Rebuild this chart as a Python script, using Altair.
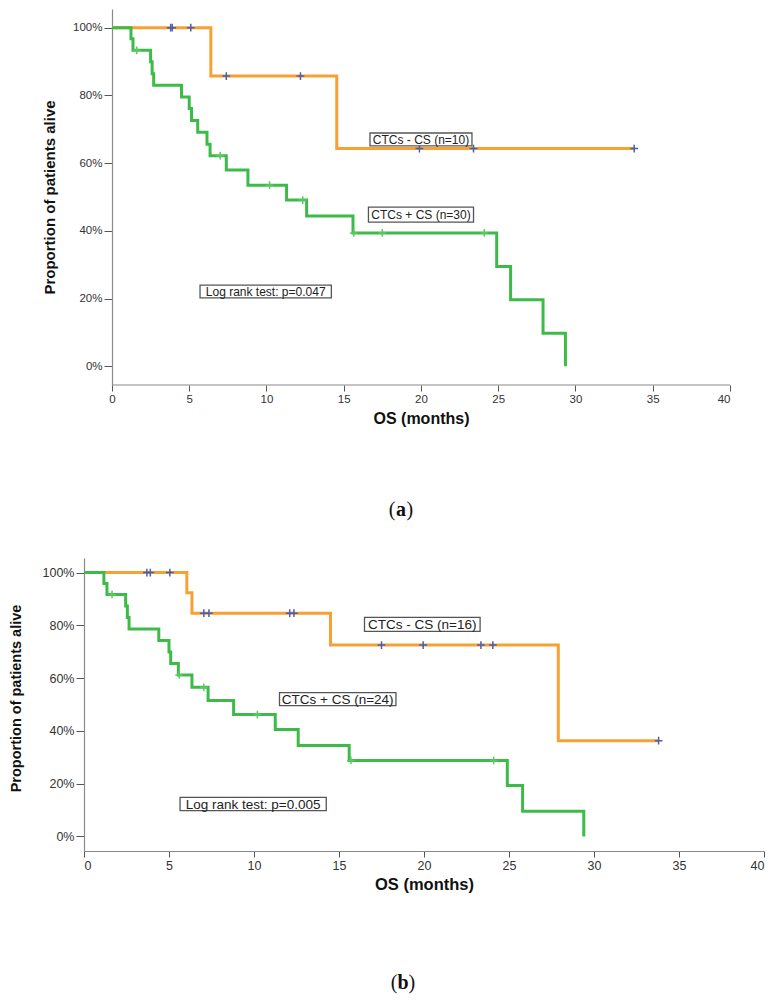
import altair as alt
import pandas as pd

# ---------------- Panel (a) ----------------
a_neg_times = [0, 6.4, 14.55, 33.8]
a_neg_surv = [100, 85.7, 64.3, 64.3]
a_neg_cens = [3.8, 3.9, 5.1, 7.4, 12.2, 19.9, 23.4, 33.8]

a_pos_times = [0, 1.23, 1.36, 2.5, 2.6, 2.7, 4.5, 5.0, 5.15, 5.55, 6.15, 6.35,
               7.4, 8.8, 11.3, 12.6, 15.6, 24.9, 25.8, 27.9, 29.35]
a_pos_surv = [100, 96.7, 93.3, 89.9, 86.4, 83.0, 79.5, 76.1, 72.6, 69.1, 65.6, 62.2,
              58.0, 53.5, 49.1, 44.4, 39.4, 29.5, 19.7, 9.8, 0]
a_pos_cens = [1.6, 7.0, 10.2, 12.35, 15.65, 17.5, 24.1]

a_labels = ["CTCs - CS (n=10)", "CTCs + CS (n=30)", "Log rank test: p=0.047"]
a_lab_x0 = [16.7, 16.6, 5.7]
a_lab_x1 = [23.3, 23.4, 14.2]
a_lab_y0 = [65.1, 42.6, 20.2]
a_lab_y1 = [68.9, 47.0, 24.0]

# ---------------- Panel (b) ----------------
b_neg_times = [0, 6.05, 6.35, 14.5, 27.9, 33.8]
b_neg_surv = [100, 92.3, 84.6, 72.5, 36.3, 36.3]
b_neg_cens = [3.7, 3.9, 5.05, 7.05, 7.35, 12.1, 12.35, 17.5, 19.95, 23.35, 24.05, 33.8]

b_pos_times = [0, 1.17, 1.35, 2.45, 2.55, 2.65, 4.4, 5.0, 5.1, 5.55, 6.35, 7.3,
               8.8, 11.25, 12.6, 15.6, 24.9, 25.8, 29.4]
b_pos_surv = [100, 95.8, 91.7, 87.3, 83.0, 78.6, 74.2, 69.9, 65.5, 61.2, 56.5, 51.5,
              46.2, 40.5, 34.5, 28.8, 19.3, 9.6, 0]
b_pos_cens = [1.65, 5.6, 7.05, 10.2, 15.7, 24.1]

b_labels = ["CTCs - CS (n=16)", "CTCs + CS (n=24)", "Log rank test: p=0.005"]
b_lab_x0 = [16.5, 11.5, 5.65]
b_lab_x1 = [23.3, 18.35, 14.25]
b_lab_y0 = [77.7, 49.6, 9.8]
b_lab_y1 = [83.0, 54.5, 14.8]

x_ticks = [0, 5, 10, 15, 20, 25, 30, 35, 40]
y_ticks = [0, 20, 40, 60, 80, 100]

ORANGE = "#f7a033"
GREEN = "#3dbb48"
BLUE_CENS = "#4a5fae"
GREEN_CENS = "#5cc866"
FONT = "Liberation Sans"
PLUS = "M-1,0H1M0,-1V1"


def step_at(times, surv, t):
    v = surv[0]
    for ti, si in zip(times, surv):
        if ti <= t:
            v = si
    return v


def curve_df(times, surv):
    return pd.DataFrame({"t": times, "s": surv})


def cens_df(times, surv, cens):
    return pd.DataFrame({"t": cens, "s": [step_at(times, surv, c) for c in cens]})


def labels_df(labels, x0, x1, y0, y1):
    return pd.DataFrame({
        "label": labels, "t": x0, "t2": x1, "s": y0, "s2": y1,
        "tc": [(a + b) / 2 for a, b in zip(x0, x1)],
        "sc": [(a + b) / 2 for a, b in zip(y0, y1)],
    })


def panel(neg_t, neg_s, neg_c, pos_t, pos_s, pos_c, labels, lx0, lx1, ly0, ly1,
          width, height, xdomain, yaxis_offset, ytitle_x, ytitle_y, xtitle_x,
          tick_fs, label_fs, ytitle_fs, xtitle_fs, caption, cap_x, cap_y,
          draw_x_domain):
    X = alt.X("t:Q",
              scale=alt.Scale(domain=xdomain, nice=False, zero=False),
              axis=alt.Axis(values=x_ticks, grid=False, domain=draw_x_domain,
                            domainColor="#8a8a8a", domainWidth=1.2,
                            tickColor="#555", tickSize=6, labelPadding=2,
                            labelFont=FONT, labelFontSize=tick_fs, labelColor="#333",
                            title="OS (months)", titleFont=FONT, titleFontSize=xtitle_fs,
                            titleFontWeight="bold", titleColor="#111",
                            titleX=xtitle_x, titleY=33, titleBaseline="middle",
                            titleAlign="center"))
    Y = alt.Y("s:Q",
              scale=alt.Scale(domain=[-5.5, 105.5], nice=False, zero=False),
              axis=alt.Axis(values=y_ticks, grid=False, offset=yaxis_offset,
                            labelExpr="datum.value + '%'",
                            domainColor="#8a8a8a", domainWidth=1.2,
                            tickColor="#555", tickSize=8, labelPadding=2,
                            labelFont=FONT, labelFontSize=tick_fs, labelColor="#333",
                            title="Proportion of patients alive", titleFont=FONT,
                            titleFontSize=ytitle_fs, titleFontWeight="bold",
                            titleColor="#111", titleX=ytitle_x, titleY=ytitle_y,
                            titleBaseline="middle", titleAlign="center", titleAngle=270))

    def line(times, surv, col):
        return alt.Chart(curve_df(times, surv)).mark_line(
            interpolate="step-after", strokeWidth=3, strokeJoin="miter", color=col
        ).encode(x=X, y=Y)

    def plus(times, surv, cens, col):
        return alt.Chart(cens_df(times, surv, cens)).mark_point(
            shape=PLUS, filled=False, size=60, strokeWidth=1.5, opacity=1, color=col
        ).encode(x=X, y=Y)

    ldf = labels_df(labels, lx0, lx1, ly0, ly1)
    boxes = alt.Chart(ldf).mark_rect(fill="white", stroke="#555", strokeWidth=1.3).encode(
        x=X, x2="t2:Q", y=Y, y2="s2:Q")
    texts = alt.Chart(ldf).mark_text(font=FONT, fontSize=label_fs, color="#222",
                                     align="center", baseline="middle", dy=0.5).encode(
        x=alt.X("tc:Q"), y=alt.Y("sc:Q"), text="label:N")

    caption_df = pd.DataFrame({"c": [caption]})
    cap_open = alt.Chart(caption_df).mark_text(font="Liberation Serif", fontSize=20, align="right",
                                               baseline="middle", color="#111").encode(
        x=alt.value(cap_x - 5.5), y=alt.value(cap_y), text=alt.value("("))
    cap_mid = alt.Chart(caption_df).mark_text(font="Liberation Serif", fontSize=20, align="center",
                                              baseline="middle", fontWeight="bold",
                                              color="#111").encode(
        x=alt.value(cap_x), y=alt.value(cap_y), text="c:N")
    cap_close = alt.Chart(caption_df).mark_text(font="Liberation Serif", fontSize=20, align="left",
                                                baseline="middle", color="#111").encode(
        x=alt.value(cap_x + 5.5), y=alt.value(cap_y), text=alt.value(")"))

    layers = [line(neg_t, neg_s, ORANGE), line(pos_t, pos_s, GREEN),
              plus(neg_t, neg_s, neg_c, BLUE_CENS), plus(pos_t, pos_s, pos_c, GREEN_CENS),
              boxes, texts, cap_open, cap_mid, cap_close]
    if not draw_x_domain:
        axis_line = alt.Chart(pd.DataFrame({"t": [x_ticks[0]], "t2": [x_ticks[-1]],
                                            "s": [-5.5]})).mark_rule(
            color="#8a8a8a", strokeWidth=1.2).encode(x=X, x2="t2:Q", y=Y)
        layers = [axis_line] + layers
    return alt.layer(*layers).properties(width=width, height=height)


pa = panel(a_neg_times, a_neg_surv, a_neg_cens, a_pos_times, a_pos_surv, a_pos_cens,
           a_labels, a_lab_x0, a_lab_x1, a_lab_y0, a_lab_y1,
           width=646, height=376, xdomain=[-1.81, 40], yaxis_offset=-28,
           ytitle_x=-63, ytitle_y=188, xtitle_x=337,
           tick_fs=11.5, label_fs=12, ytitle_fs=15, xtitle_fs=16,
           caption="a", cap_x=317, cap_y=501, draw_x_domain=False)

pb = panel(b_neg_times, b_neg_surv, b_neg_cens, b_pos_times, b_pos_surv, b_pos_cens,
           b_labels, b_lab_x0, b_lab_x1, b_lab_y0, b_lab_y1,
           width=680, height=293, xdomain=[0, 40], yaxis_offset=0,
           ytitle_x=-68, ytitle_y=140, xtitle_x=340,
           tick_fs=12.5, label_fs=13.5, ytitle_fs=14.5, xtitle_fs=16.5,
           caption="b", cap_x=319, cap_y=425, draw_x_domain=True)

chart = alt.vconcat(pa, pb, spacing=38).properties(
    padding={"left": 0, "top": 1, "right": 0, "bottom": 2}
).configure_view(stroke=None)

chart.save("out.html", embed_options={"renderer": "svg", "actions": False})
